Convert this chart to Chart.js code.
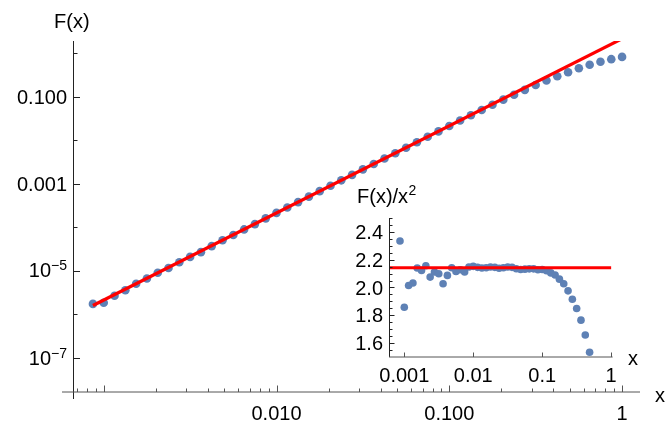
<!DOCTYPE html>
<html>
<head>
<meta charset="utf-8">
<script src="https://cdn.jsdelivr.net/npm/chart.js@4"></script>
<style>
  body { margin: 0; background: #fff; }
  #wrap { position: relative; width: 665px; height: 424px; }
  canvas { position: absolute; }
</style>
</head>
<body>
<div id="wrap">
  <canvas id="mainChart" width="665" height="424" style="left:0;top:0"></canvas>
  <canvas id="insetChart" width="345" height="210" style="left:320px;top:180px"></canvas>
</div>
<script>
// sample points (16 per decade)
const xValues = [
    0.000866, 0.001, 0.001155, 0.001334, 0.00154, 0.001778, 0.002054, 0.002371,
    0.002738, 0.003162, 0.003652, 0.004217, 0.00487, 0.005623, 0.006494, 0.007499,
    0.00866, 0.01, 0.01155, 0.01334, 0.0154, 0.01778, 0.02054, 0.02371,
    0.02738, 0.03162, 0.03652, 0.04217, 0.0487, 0.05623, 0.06494, 0.07499,
    0.0866, 0.1, 0.1155, 0.1334, 0.154, 0.1778, 0.2054, 0.2371,
    0.2738, 0.3162, 0.3652, 0.4217, 0.487, 0.5623, 0.6494, 0.7499,
    0.866, 1,
];

// F(x)
const fValues = [
    1.75e-6, 1.86e-6, 2.69e-6, 3.61e-6, 5.07e-6, 6.71e-6, 9.10e-6, 1.167e-5,
    1.583e-5, 2.099e-5, 2.70e-5, 3.71e-5, 5.08e-5, 6.69e-5, 8.97e-5, 1.187e-4,
    1.610e-4, 2.152e-4, 2.86e-4, 3.80e-4, 5.08e-4, 6.79e-4, 9.05e-4, 1.202e-3,
    1.606e-3, 2.148e-3, 2.86e-3, 3.80e-3, 5.05e-3, 6.74e-3, 9.00e-3, 1.200e-2,
    1.596e-2, 2.130e-2, 2.83e-2, 3.74e-2, 4.96e-2, 6.51e-2, 8.55e-2, 0.1111,
    0.1437, 0.1849, 0.2355, 0.2948, 0.3637, 0.449, 0.540, 0.635,
    0.727, 0.82,
];

// F(x)/x^2
const ratioValues = [
    2.335, 1.858, 2.014, 2.032, 2.140, 2.123, 2.157, 2.075, 2.111, 2.099,
    2.027, 2.087, 2.142, 2.116, 2.128, 2.111, 2.147, 2.152, 2.145, 2.140,
    2.142, 2.148, 2.145, 2.138, 2.142, 2.148, 2.145, 2.135, 2.130, 2.132,
    2.134, 2.134, 2.128, 2.130, 2.120, 2.105, 2.090, 2.060, 2.027, 1.976,
    1.916, 1.849, 1.765, 1.658, 1.534, 1.42, 1.28, 1.13, 0.97, 0.82,
];

// fit c*x^2 with c = 2.142
const fitX = [0.000866, 1];
const fitY = [1.606e-6, 2.142];
const insetFitX = [0.00062, 1];
const insetFitY = [2.142, 2.142];

// axis ticks and labels
const mainYTicks = [1e-7, 1e-6, 1e-5, 1e-4, 1e-3, 1e-2, 1e-1, 1];
const mainYLabelTicks = [1e-7, 1e-5, 1e-3, 1e-1];
const mainYLabels = ["10^−7", "10^−5", "0.001", "0.100"];
const mainXMajorTicks = [0.001, 0.01, 0.1, 1];
const mainXLabelTicks = [0.01, 0.1, 1];
const mainXLabels = ["0.010", "0.100", "1"];

const insetXTicks = [0.001, 0.01, 0.1, 1];
const insetXLabels = ["0.001", "0.01", "0.1", "1"];
const insetYLabelTicks = [1.6, 1.8, 2.0, 2.2, 2.4];
const insetYLabels = ["1.6", "1.8", "2.0", "2.2", "2.4"];

const pointColor = "#5E81B5";
const fitColor = "#FF0000";
const font = (size) => `${size}px "Liberation Sans", Arial, sans-serif`;

function seg(ctx, x1, y1, x2, y2) {
    ctx.beginPath();
    ctx.moveTo(x1, y1);
    ctx.lineTo(x2, y2);
    ctx.stroke();
}

// "10^−5" style label, right aligned
function drawLabel(ctx, text, right, baseY, size, supSize, raise) {
    const parts = text.split("^");
    ctx.textAlign = "left";
    ctx.textBaseline = "alphabetic";
    ctx.font = font(size);
    const wb = ctx.measureText(parts[0]).width;
    let we = 0;
    if (parts[1]) {
        ctx.font = font(supSize);
        we = ctx.measureText(parts[1]).width;
    }
    ctx.font = font(size);
    ctx.fillText(parts[0], right - we - wb, baseY);
    if (parts[1]) {
        ctx.font = font(supSize);
        ctx.fillText(parts[1], right - we, baseY - raise);
    }
}

const mainAxes = {
    id: "mainAxes",
    afterDraw(chart) {
        const { ctx, chartArea: a, scales } = chart;
        const xs = scales.x, ys = scales.y;
        ctx.save();
        ctx.lineWidth = 1;

        // axis lines, crossing a little like Mathematica's
        ctx.strokeStyle = "#222";
        seg(ctx, a.left + 0.5, a.top, a.left + 0.5, a.bottom + 7);
        ctx.strokeStyle = "#555";
        seg(ctx, a.left - 11, a.bottom, a.right, a.bottom);

        // y ticks point into the plot
        ctx.strokeStyle = "#222";
        mainYTicks.forEach((v) => {
            const py = Math.round(ys.getPixelForValue(v)) + 0.5;
            const len = mainYLabelTicks.includes(v) ? 6 : 3.5;
            seg(ctx, a.left, py, a.left + 1 + len, py);
        });

        // x ticks: majors per decade, minors at 2..9
        ctx.strokeStyle = "#555";
        [1e-4, 1e-3, 1e-2, 1e-1].forEach((d) => {
            for (let m = 2; m <= 9; m++) {
                const v = m * d;
                if (v < xs.min || v > xs.max) continue;
                const px = Math.round(xs.getPixelForValue(v)) + 0.5;
                seg(ctx, px, a.bottom, px, a.bottom - 3.5);
            }
        });
        mainXMajorTicks.forEach((v) => {
            const px = Math.round(xs.getPixelForValue(v)) + 0.5;
            seg(ctx, px, a.bottom, px, a.bottom - 6.5);
        });

        ctx.fillStyle = "#000";
        mainYLabelTicks.forEach((v, i) => {
            const py = ys.getPixelForValue(v);
            const isPow = mainYLabels[i].includes("^");
            drawLabel(ctx, mainYLabels[i], a.left - 6, py + (isPow ? 6.5 : 7), 20, 14, 7);
        });
        ctx.textAlign = "center";
        ctx.font = font(20);
        mainXLabelTicks.forEach((v, i) => {
            ctx.fillText(mainXLabels[i], xs.getPixelForValue(v), a.bottom + 27.5);
        });

        ctx.textAlign = "left";
        ctx.fillText("F(x)", a.left - 19, a.top - 13);
        ctx.fillText("x", a.right + 15, a.bottom + 10);
        ctx.restore();
    },
};

const insetAxes = {
    id: "insetAxes",
    afterDraw(chart) {
        const { ctx, chartArea: a, scales } = chart;
        const xs = scales.x, ys = scales.y;
        ctx.save();
        ctx.lineWidth = 1;

        ctx.strokeStyle = "#222";
        seg(ctx, a.left + 0.5, a.top, a.left + 0.5, a.bottom);
        ctx.strokeStyle = "#555";
        seg(ctx, a.left, a.bottom, a.right, a.bottom);

        // y ticks every 0.05, longer on the labelled ones
        ctx.strokeStyle = "#222";
        for (let v = 1.55; v <= 2.501; v += 0.05) {
            const py = Math.round(ys.getPixelForValue(v)) + 0.5;
            const major = insetYLabelTicks.some((t) => Math.abs(t - v) < 1e-6);
            seg(ctx, a.left, py, a.left + 1 + (major ? 4.5 : 2.5), py);
        }
        ctx.strokeStyle = "#555";
        insetXTicks.forEach((v) => {
            const px = Math.round(xs.getPixelForValue(v)) + 0.5;
            seg(ctx, px, a.bottom, px, a.bottom - 4.5);
        });

        ctx.fillStyle = "#000";
        ctx.font = font(20);
        ctx.textAlign = "right";
        insetYLabelTicks.forEach((v, i) => {
            ctx.fillText(insetYLabels[i], a.left - 6, ys.getPixelForValue(v) + 7);
        });
        ctx.textAlign = "center";
        insetXTicks.forEach((v, i) => {
            ctx.fillText(insetXLabels[i], xs.getPixelForValue(v), a.bottom + 25);
        });

        ctx.textAlign = "left";
        ctx.fillText("x", a.right + 15.5, a.bottom + 8);
        ctx.fillText("F(x)/x", a.left - 32, a.top - 15);
        const w = ctx.measureText("F(x)/x").width;
        ctx.font = font(14);
        ctx.fillText("2", a.left - 32 + w + 0.5, a.top - 23);
        ctx.restore();
    },
};

const points = (xs, ys) => xs.map((x, i) => ({ x: x, y: ys[i] }));

new Chart(document.getElementById("mainChart"), {
    type: "scatter",
    data: {
        datasets: [
            {
                data: points(fitX, fitY),
                showLine: true,
                borderColor: fitColor,
                borderWidth: 3.2,
                pointRadius: 0,
            },
            {
                data: points(xValues, fValues),
                backgroundColor: pointColor,
                pointRadius: 4.3,
                pointBorderWidth: 0,
            },
        ],
    },
    options: {
        responsive: false,
        devicePixelRatio: 1,
        animation: false,
        layout: { padding: { left: 73, right: 25, top: 41, bottom: 32 } },
        plugins: { legend: { display: false }, tooltip: { enabled: false } },
        scales: {
            x: { type: "logarithmic", min: 0.000664, max: 1.27, display: false },
            y: { type: "logarithmic", min: 1.66e-8, max: 1.9, display: false },
        },
    },
    plugins: [mainAxes],
});

new Chart(document.getElementById("insetChart"), {
    type: "scatter",
    data: {
        datasets: [
            {
                data: points(insetFitX, insetFitY),
                showLine: true,
                borderColor: fitColor,
                borderWidth: 3,
                pointRadius: 0,
            },
            {
                data: points(xValues, ratioValues),
                backgroundColor: pointColor,
                pointRadius: 3.8,
                pointBorderWidth: 0,
                clip: { left: 0, right: 0, top: 0, bottom: 6 },
            },
        ],
    },
    options: {
        responsive: false,
        devicePixelRatio: 1,
        animation: false,
        layout: { padding: { left: 69, right: 52.4, top: 38, bottom: 33 } },
        plugins: { legend: { display: false }, tooltip: { enabled: false } },
        scales: {
            x: { type: "logarithmic", min: 0.000622, max: 1.05, display: false },
            y: { type: "linear", min: 1.5, max: 2.5, display: false },
        },
    },
    plugins: [insetAxes],
});
</script>
</body>
</html>
